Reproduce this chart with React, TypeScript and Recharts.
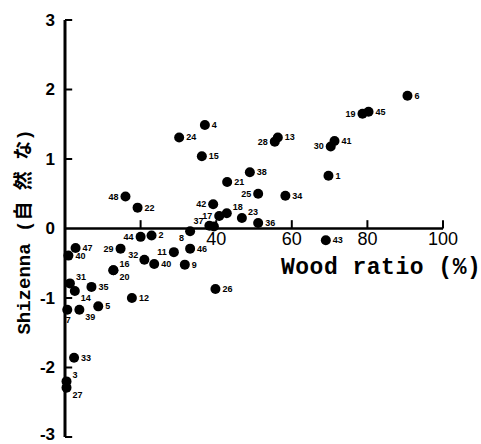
import { ReferenceDot, ReferenceLine, Scatter, ScatterChart, XAxis, YAxis } from "recharts";

// point numbers as printed beside each dot
const pointIds = [
  "1", "2", "3", "4", "5", "6", "7", "8", "9", "11",
  "12", "13", "14", "15", "16", "17", "18", "19", "20", "21",
  "22", "23", "24", "25", "26", "28", "27", "29", "30", "31",
  "32", "33", "34", "35", "36", "37", "", "38", "39", "40",
  "40", "41", "42", "43", "44", "45", "46", "47", "48",
];

const woodRatio = [
  69.7, 22.9, 0.4, 37.0, 8.8, 90.6, 0.6, 33.1, 31.7, 28.8,
  17.7, 56.3, 2.6, 36.2, 12.8, 40.8, 42.8, 78.7, 12.8, 42.9,
  19.2, 46.8, 30.2, 51.1, 39.8, 55.5, 0.4, 14.7, 70.3, 1.3,
  21.0, 2.4, 58.3, 7.0, 51.1, 38.2, 39.4, 48.9, 3.8, 0.9,
  23.6, 71.3, 39.2, 69.0, 20.0, 80.3, 33.1, 2.8, 16.0,
];

const shizenna = [
  0.76, -0.1, -2.2, 1.49, -1.12, 1.91, -1.17, -0.04, -0.52, -0.34,
  -1.0, 1.31, -0.9, 1.04, -0.6, 0.18, 0.22, 1.65, -0.6, 0.67,
  0.3, 0.15, 1.31, 0.5, -0.87, 1.25, -2.29, -0.29, 1.18, -0.79,
  -0.45, -1.86, 0.47, -0.84, 0.08, 0.04, 0.03, 0.81, -1.17, -0.39,
  -0.51, 1.26, 0.35, -0.17, -0.12, 1.68, -0.29, -0.28, 0.46,
];

const yTicks = [-3, -2, -1, 0, 1, 2, 3];
const xTickMarks = [20, 40, 60, 80, 100];
const xTickLabels = [40, 60, 80, 100];

// where each number sits relative to its dot (default: right)
const labelSide: Record<string, string> = {
  "8": "bl",
  "17": "l",
  "18": "ar",
  "19": "l",
  "23": "ar",
  "25": "l",
  "28": "l",
  "30": "l",
  "37": "al",
  "42": "l",
  "44": "l",
  "29": "l",
  "32": "al",
  "11": "l",
  "48": "l",
  "16": "ar",
  "20": "br",
  "31": "ar",
  "14": "br",
  "7": "b",
  "39": "br",
  "3": "ar",
  "27": "br",
};

const data = pointIds.map((id, i) => ({ id, x: woodRatio[i], y: shizenna[i] }));

const R = 5;
const SANS = "Liberation Sans, Arial, sans-serif";

function Dot(props: any) {
  const { cx, cy, payload } = props;
  const side = labelSide[payload.id] || "r";
  let dx = R + 2;
  let dy = 0;
  let anchor = "start";
  if (side === "l") {
    dx = -(R + 2);
    anchor = "end";
  } else if (side === "ar") {
    dx = R + 1;
    dy = -6;
  } else if (side === "br") {
    dx = R + 1;
    dy = 7;
  } else if (side === "al") {
    dx = -(R + 1);
    dy = -5;
    anchor = "end";
  } else if (side === "bl") {
    dx = -(R + 1);
    dy = 7;
    anchor = "end";
  } else if (side === "b") {
    dx = 1;
    dy = 10;
    anchor = "middle";
  }
  return (
    <g>
      <circle cx={cx} cy={cy} r={R} fill="#000" />
      {payload.id && (
        <text
          x={cx + dx}
          y={cy + dy}
          textAnchor={anchor}
          dominantBaseline="central"
          fontSize={9}
          fontWeight="bold"
          fontFamily={SANS}
          fill="#000"
        >
          {payload.id}
        </text>
      )}
    </g>
  );
}

// y tick label; the bottom one is nudged up so it stays inside the frame
function YTick(props: any) {
  const { x, y, payload } = props;
  const nudge = payload.value === -3 ? -3 : 0;
  return (
    <text
      x={x}
      y={y + nudge}
      textAnchor="end"
      dominantBaseline="central"
      fontSize={17}
      fontWeight="bold"
      fontFamily={SANS}
      fill="#000"
    >
      {payload.value}
    </text>
  );
}

export default function App() {
  return (
    <div style={{ position: "relative", width: 481, height: 444, background: "#fff" }}>
      <style>{"body{margin:0}"}</style>
      <ScatterChart width={481} height={444} margin={{ top: 20, right: 38, bottom: 7, left: 20 }}>
        <XAxis type="number" dataKey="x" domain={[0, 100]} hide />
        <YAxis
          type="number"
          dataKey="y"
          domain={[-3, 3]}
          ticks={yTicks}
          interval={0}
          width={45}
          tickLine={false}
          tickMargin={4}
          axisLine={{ stroke: "#000", strokeWidth: 3 }}
          tick={YTick}
        />
        <ReferenceLine y={0} stroke="#000" strokeWidth={2.5} />
        {yTicks
          .filter((v) => v !== 0)
          .map((v) => (
            <ReferenceLine
              key={"yt" + v}
              segment={[
                { x: 0, y: v },
                { x: 1.9, y: v },
              ]}
              stroke="#000"
              strokeWidth={2}
            />
          ))}
        {xTickMarks.map((v) => (
          <ReferenceLine
            key={"xt" + v}
            segment={[
              { x: v, y: 0 },
              { x: v, y: 0.12 },
            ]}
            stroke="#000"
            strokeWidth={2}
          />
        ))}
        {xTickLabels.map((v) => (
          <ReferenceDot
            key={"xl" + v}
            x={v}
            y={0}
            r={0}
            fill="none"
            stroke="none"
            label={{
              value: String(v),
              position: "bottom",
              offset: 4,
              fontSize: 18,
              fill: "#000",
              fontFamily: SANS,
            }}
          />
        ))}
        <Scatter data={data} shape={Dot} isAnimationActive={false} />
      </ScatterChart>
      <div
        style={{
          position: "absolute",
          left: 281,
          top: 255,
          fontFamily: "Liberation Mono, monospace",
          fontWeight: "bold",
          fontSize: 23,
          lineHeight: "26px",
          letterSpacing: "0.5px",
          whiteSpace: "nowrap",
          color: "#000",
        }}
      >
        Wood ratio (%)
      </div>
      <div
        style={{
          position: "absolute",
          left: 25,
          top: 232,
          transform: "translate(-50%, -50%) rotate(-90deg)",
          fontFamily: "Liberation Mono, 'Noto Sans CJK JP', monospace",
          fontWeight: "bold",
          fontSize: 19,
          lineHeight: "20px",
          whiteSpace: "nowrap",
          color: "#000",
        }}
      >
        Shizenna (自 然 な)
      </div>
    </div>
  );
}
